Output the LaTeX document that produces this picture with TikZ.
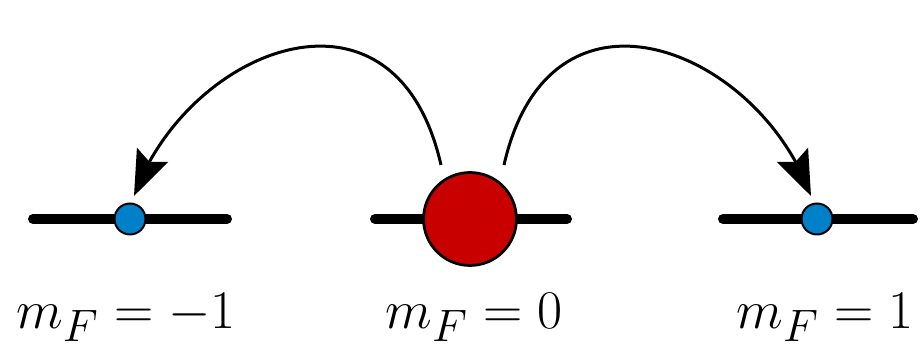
\documentclass[tikz,border=0pt]{standalone}
\usetikzlibrary{arrows.meta, bending}
\definecolor{atomred}{RGB}{200,0,0}
\definecolor{atomblue}{RGB}{0,128,200}
\tikzset{
    level/.style={line width=0.2cm, line cap=round},
    atom/.style={circle, draw=black, line width=0.055cm, fill=atomred, inner sep=0pt, minimum size=1.86cm},
    spot/.style={circle, draw=black, line width=0.04cm, fill=atomblue, inner sep=0pt, minimum size=0.62cm},
    jump/.style={line width=0.06cm, -{Stealth[length=0.9cm, width=0.68cm, inset=0.15cm, flex]}},
    lbl/.style={anchor=base, inner sep=0pt, font=\Huge, scale=1.246}
}
\begin{document}
\begin{tikzpicture}[x=0.02cm, y=0.02cm]
    \useasboundingbox (0,0) rectangle (921,344);

    % Niveles
    \draw[level] (33,125) -- (227,125);
    \draw[level] (375,125) -- (567,125);
    \draw[level] (723,125) -- (913,125);

    % Atomos
    \node[spot] (mneg) at (130,125) {};
    \node[atom] (mzero) at (470,125) {};
    \node[spot] (mpos) at (817,125) {};

    % Saltos
    \coordinate (sl) at (441,179);
    \coordinate (sr) at (504,179);
    \coordinate (tl) at (134,148);
    \coordinate (tr) at (811,148);
    \draw[jump] (sl) .. controls +(102.8:207) and +(70.5:156) .. (tl);
    \draw[jump] (sr) .. controls +(77.2:207) and +(109.5:156) .. (tr);

    % Etiquetas
    \node[lbl] (lneg) at (126,15) {$m_F=-1$};
    \node[lbl] (lzero) at (474,15) {$m_F=0$};
    \node[lbl] (lpos) at (825,15) {$m_F=1$};
\end{tikzpicture}
\end{document}
